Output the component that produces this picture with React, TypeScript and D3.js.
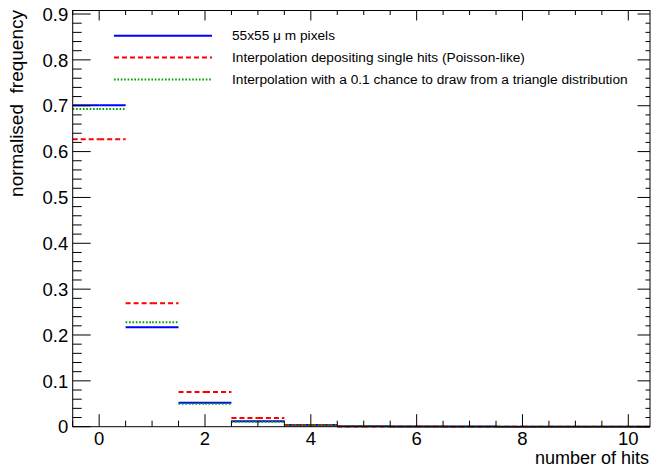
import React from "react";
import * as d3 from "d3";

const binCenters = [0, 1, 2, 3, 4, 5, 6, 7, 8, 9, 10];
const pixels55 = [0.701, 0.217, 0.0523, 0.0118, 0.0035, 0.001, 0.0004, 0.0002, 0.0001, 0.0001, 0.0001];
const poissonLike = [0.627, 0.269, 0.0756, 0.019, 0.003, 0.0006, 0.0002, 0.0001, 0.0001, 0.0, 0.0];
const triangleMix = [0.693, 0.228, 0.050, 0.011, 0.003, 0.0008, 0.0003, 0.0001, 0.0001, 0.0, 0.0];

const seriesNames = [
  "55x55 \u03bc m pixels",
  "Interpolation depositing single hits (Poisson-like)",
  "Interpolation with a 0.1 chance to draw from a triangle distribution",
];
const seriesColors = ["#0000ff", "#ff0000", "#00a000"];
const seriesDash = ["", "5,3", "1.6,1.8"];

const xTicks = [0, 2, 4, 6, 8, 10];
const yTicks = [0, 0.1, 0.2, 0.3, 0.4, 0.5, 0.6, 0.7, 0.8, 0.9];

const W = 655;
const H = 468;
const L = 72.7, R = 650, T = 10.5, B = 426.7;
const XMIN = -0.5, XMAX = 10.41, YMAX = 0.9077;
const FONT = "'Liberation Sans', Arial, sans-serif";

export default function App() {
  const x = d3.scaleLinear().domain([XMIN, XMAX]).range([L, R]);
  const y = d3.scaleLinear().domain([0, YMAX]).range([B, T]);

  const xMinor = d3.range(XMIN, XMAX + 1e-9, 0.5).filter((v) => Math.abs(v / 2 - Math.round(v / 2)) > 1e-6);
  const yMinor = d3.range(0, YMAX, 0.02).filter((v) => Math.abs(v * 10 - Math.round(v * 10)) > 1e-6);

  const data = [pixels55, poissonLike, triangleMix];

  return (
    <svg width={W} height={H} style={{ position: "absolute", left: 0, top: 0, background: "#fff" }}>
      <rect x={0} y={0} width={W} height={H} fill="#fff" />
      <defs>
        <clipPath id="plotclip">
          <rect x={L} y={T - 3} width={R - L} height={B - T + 6} />
        </clipPath>
      </defs>
      <g clipPath="url(#plotclip)">
        {data.map((vals, si) => (
          <g key={si}>
            {binCenters.map((c, i) => {
              const yy = y(vals[i]);
              const segs = [
                [c - 0.5, c],
                [c, c + 0.5],
              ];
              return segs.map((s, k) => (
                <line
                  key={i + "-" + k}
                  x1={x(s[0])}
                  x2={x(s[1])}
                  y1={yy}
                  y2={yy}
                  stroke={seriesColors[si]}
                  strokeWidth={2}
                  strokeDasharray={seriesDash[si] || undefined}
                />
              ));
            })}
          </g>
        ))}
      </g>
      <rect x={L} y={T} width={R - L} height={B - T} fill="none" stroke="#000" strokeWidth={1} />
      {xTicks.map((t) => (
        <g key={"xt" + t}>
          <line x1={x(t)} x2={x(t)} y1={B} y2={B - 12.5} stroke="#000" />
          <line x1={x(t)} x2={x(t)} y1={T} y2={T + 10} stroke="#000" />
          <text x={x(t)} y={445} textAnchor="middle" fontFamily={FONT} fontSize={18.5} fill="#000">
            {t}
          </text>
        </g>
      ))}
      {xMinor.map((t) => (
        <g key={"xm" + t}>
          <line x1={x(t)} x2={x(t)} y1={B} y2={B - 6} stroke="#000" />
          <line x1={x(t)} x2={x(t)} y1={T} y2={T + 4.5} stroke="#000" />
        </g>
      ))}
      {yTicks.map((t) => (
        <g key={"yt" + t}>
          <line x1={L} x2={L + 18} y1={y(t)} y2={y(t)} stroke="#000" />
          <line x1={R} x2={R - 12.5} y1={y(t)} y2={y(t)} stroke="#000" />
          <text x={68.3} y={y(t)} dy="0.36em" textAnchor="end" fontFamily={FONT} fontSize={18.5} fill="#000">
            {t === 0 ? "0" : t.toFixed(1)}
          </text>
        </g>
      ))}
      {yMinor.map((t) => (
        <g key={"ym" + t}>
          <line x1={L} x2={L + 9} y1={y(t)} y2={y(t)} stroke="#000" />
          <line x1={R} x2={R - 4.5} y1={y(t)} y2={y(t)} stroke="#000" />
        </g>
      ))}
      <text x={649} y={464} textAnchor="end" fontFamily={FONT} fontSize={18} fill="#000">
        number of hits
      </text>
      <text
        transform={`translate(23,10) rotate(-90)`}
        textAnchor="end"
        fontFamily={FONT}
        fontSize={19}
        fill="#000"
        style={{ whiteSpace: "pre" }}
      >
        {"normalised  frequency"}
      </text>
      {seriesNames.map((name, i) => {
        const ly = [35.7, 57.5, 79.5][i];
        return (
          <g key={"lg" + i}>
            <line
              x1={114}
              x2={212}
              y1={ly}
              y2={ly}
              stroke={seriesColors[i]}
              strokeWidth={2}
              strokeDasharray={seriesDash[i] || undefined}
            />
            <text x={232} y={ly} dy="0.35em" fontFamily={FONT} fontSize={13.7} fill="#000">
              {name}
            </text>
          </g>
        );
      })}
    </svg>
  );
}
